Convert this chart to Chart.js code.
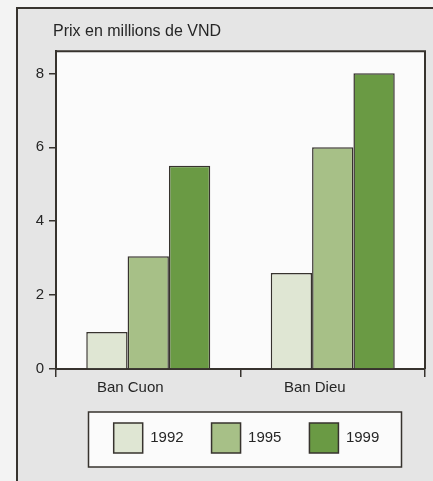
<!DOCTYPE html>
<html>
<head>
<meta charset="utf-8">
<script src="https://cdn.jsdelivr.net/npm/chart.js@4"></script>
<style>
  body { margin: 0; background: #f3f3f3; overflow: hidden; }
  canvas { display: block; }
</style>
</head>
<body>
<canvas id="chart" width="433" height="481"></canvas>
<script>
const categories = ['Ban Cuon', 'Ban Dieu'];
const years = ['1992', '1995', '1999'];
const prix1992 = [1.0, 2.6];
const prix1995 = [3.05, 6.0];
const prix1999 = [5.5, 8.0];
const yTicks = [0, 2, 4, 6, 8];

const barColors = ['#dfe6d3', '#a7c087', '#6a9a44'];
const ink = '#37332e';
const textColor = '#262626';

Chart.defaults.font.family = '"Liberation Sans", Arial, sans-serif';
Chart.defaults.font.size = 15;
Chart.defaults.color = textColor;

// fond gris, cadre, zone blanche et boite de legende
const decor = {
    id: 'decor',
    afterLayout(chart) {
        // titre aligne sur le cadre du graphique, legende un peu a droite
        chart.titleBlock.left += 33;
        chart.titleBlock.right += 33;
        chart.legend.left += 6;
        chart.legend.right += 6;
    },
    beforeDraw(chart) {
        const ctx = chart.ctx;
        const a = chart.chartArea;
        ctx.save();
        ctx.fillStyle = '#f3f3f3';
        ctx.fillRect(0, 0, chart.width, chart.height);
        ctx.fillStyle = '#e5e5e5';
        ctx.fillRect(17, 8, chart.width, chart.height);
        ctx.strokeStyle = ink;
        ctx.lineWidth = 2;
        ctx.beginPath();
        ctx.moveTo(17, chart.height + 5);
        ctx.lineTo(17, 8);
        ctx.lineTo(chart.width + 5, 8);
        ctx.stroke();

        ctx.fillStyle = '#fbfbfb';
        ctx.fillRect(a.left, a.top, a.right - a.left, a.bottom - a.top);
        ctx.beginPath();
        ctx.moveTo(a.left, a.top);
        ctx.lineTo(a.right, a.top);
        ctx.lineTo(a.right, a.bottom);
        ctx.stroke();

        const lg = chart.legend;
        const cx = (lg.left + lg.right) / 2;
        const bx = cx - 158, by = lg.top + 17;
        ctx.fillStyle = '#fbfbfb';
        ctx.fillRect(bx, by, 313, 55);
        ctx.lineWidth = 1.5;
        ctx.strokeRect(bx, by, 313, 55);
        ctx.restore();
    }
};

const ctx = document.getElementById('chart').getContext('2d');
new Chart(ctx, {
    type: 'bar',
    data: {
        labels: categories,
        datasets: [
            { label: years[0], data: prix1992, backgroundColor: barColors[0] },
            { label: years[1], data: prix1995, backgroundColor: barColors[1] },
            { label: years[2], data: prix1999, backgroundColor: barColors[2] }
        ].map(d => Object.assign(d, { borderColor: ink, borderWidth: 1.5 }))
    },
    options: {
        responsive: false,
        animation: false,
        layout: { padding: { left: 20, right: 8, top: 22, bottom: 18 } },
        datasets: { bar: { categoryPercentage: 0.672, barPercentage: 1.0 } },
        scales: {
            x: {
                afterFit: s => { s.height = 26; },
                grid: { drawOnChartArea: false, tickLength: 8, color: ink, lineWidth: 1.5 },
                border: { color: ink, width: 2 },
                ticks: { labelOffset: -18, padding: 2, color: textColor }
            },
            y: {
                min: 0,
                max: 8.6,
                afterFit: s => { s.width = 36; },
                afterBuildTicks: s => { s.ticks = yTicks.map(v => ({ value: v })); },
                grid: { drawOnChartArea: false, tickLength: 7, color: ink, lineWidth: 1.5 },
                border: { color: ink, width: 2 },
                ticks: { padding: 5, color: textColor }
            }
        },
        plugins: {
            title: {
                display: true,
                text: 'Prix en millions de VND',
                align: 'start',
                color: textColor,
                font: { size: 16, weight: 'normal' },
                padding: { top: 0, bottom: 10 }
            },
            legend: {
                position: 'bottom',
                fullSize: false,
                labels: { boxWidth: 29, boxHeight: 30, padding: 28, color: textColor }
            },
            tooltip: { enabled: false }
        }
    },
    plugins: [decor]
});
</script>
</body>
</html>
